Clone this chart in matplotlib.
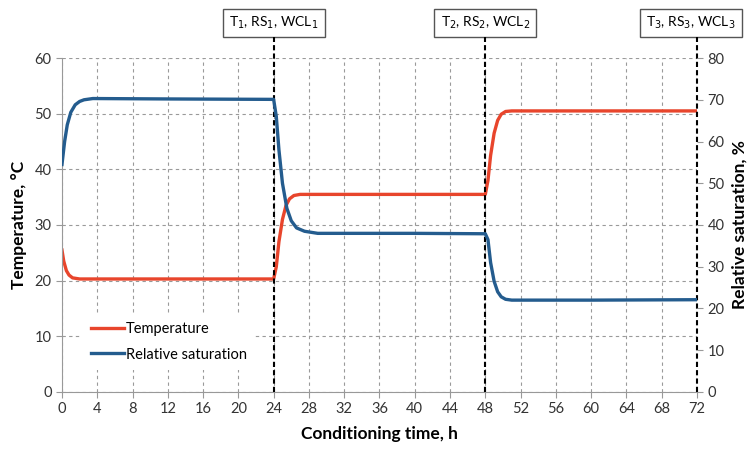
import matplotlib
matplotlib.use('Agg')
import matplotlib.pyplot as plt

# temperature curve (h, degC)
tempTime = [0, 0.2, 0.5, 0.8, 1.2, 2, 10, 24, 24.3, 24.6, 25.0, 25.4, 25.8, 26.3, 27,
            36, 48, 48.3, 48.6, 49.0, 49.4, 49.8, 50.3, 51, 60, 72]
tempVal = [25.5, 23.5, 21.8, 21.0, 20.5, 20.3, 20.3, 20.3, 22.5, 27.0, 31.0, 33.5, 34.7,
           35.3, 35.5, 35.5, 35.5, 38.0, 42.5, 46.5, 48.8, 49.9, 50.4, 50.5, 50.5, 50.5]

# relative saturation curve (h, %)
rsTime = [0, 0.3, 0.6, 1.0, 1.5, 2.0, 2.5, 3.5, 12, 24, 24.3, 24.6, 25.0, 25.5, 26,
          26.6, 27.5, 29, 40, 48, 48.3, 48.6, 49.0, 49.4, 49.8, 50.3, 51, 60, 72]
rsVal = [54.5, 60.0, 64.0, 67.0, 68.8, 69.6, 70.0, 70.3, 70.2, 70.1, 66.0, 58.0, 50.0,
         44.0, 41.0, 39.3, 38.5, 38.0, 38.0, 37.9, 36.5, 31.0, 26.5, 24.0, 22.8, 22.2,
         22.0, 22.0, 22.1]

stepTimes = [24, 48, 72]
stepLabels = ['T$_1$, RS$_1$, WCL$_1$', 'T$_2$, RS$_2$, WCL$_2$', 'T$_3$, RS$_3$, WCL$_3$']
xTicks = list(range(0, 73, 4))
tempTicks = list(range(0, 61, 10))
rsTicks = list(range(0, 81, 10))

plt.rcParams['font.family'] = ['Lato', 'DejaVu Sans']

red = '#E8452C'
blue = '#245C8E'
tickCol = '#333333'

fig = plt.figure(figsize=(7.53, 4.5), dpi=100)
ax = fig.add_axes([0.0823, 0.129, 0.8433, 0.742])
ax2 = ax.twinx()

pT, = ax.plot(tempTime, tempVal, color=red, lw=2.4, label='Temperature')
pR, = ax2.plot(rsTime, rsVal, color=blue, lw=2.4, label='Relative saturation')

ax.set_xlim(0, 72)
ax.set_ylim(0, 60)
ax2.set_ylim(0, 80)
ax.set_xticks(xTicks)
ax.set_yticks(tempTicks)
ax2.set_yticks(rsTicks)

ax.grid(True, color='#9a9a9a', ls=(0, (3, 3)), lw=0.8)
ax.set_axisbelow(True)

for a in (ax, ax2):
    for s in a.spines.values():
        s.set_visible(False)
ax.spines['left'].set_visible(True)
ax.spines['bottom'].set_visible(True)
ax.spines['left'].set_color('#999999')
ax.spines['bottom'].set_color('#999999')

ax.tick_params(axis='both', colors='#999999', labelcolor=tickCol, labelsize=10.5,
               length=4, width=0.8)
ax2.tick_params(axis='y', colors='#999999', labelcolor=tickCol, labelsize=10.5,
                length=4, width=0.8)

ax.set_xlabel('Conditioning time, h', fontsize=12.5, fontweight='bold', labelpad=7)
ax.set_ylabel('Temperature, °C', fontsize=12.5, fontweight='bold', labelpad=5)
ax2.set_ylabel('Relative saturation, %', fontsize=12.5, fontweight='bold', labelpad=5)

#vertical step lines and their boxes on top
boxX = [24, 48, 71.3]
for t, lab, bx in zip(stepTimes, stepLabels, boxX):
    ax.plot([t, t], [0, 1.063], color='black', ls=(0, (2.5, 1.5)), lw=1.5,
            transform=ax.get_xaxis_transform(), clip_on=False, zorder=5)
    ax.text(bx, 1.105, lab, ha='center', va='center', fontsize=10,
            transform=ax.get_xaxis_transform(),
            bbox=dict(boxstyle='square,pad=0.45', fc='white', ec='#555555', lw=1))

leg = ax2.legend(handles=[pT, pR], loc='upper left', bbox_to_anchor=(0.02, 0.258),
                 fontsize=10.5, frameon=True, handlelength=2.3, handletextpad=0.1,
                 labelspacing=0.8, borderpad=0.6)
leg.get_frame().set_edgecolor('none')
leg.get_frame().set_facecolor('white')
leg.get_frame().set_alpha(1)

fig.savefig('out.png', dpi=100)
